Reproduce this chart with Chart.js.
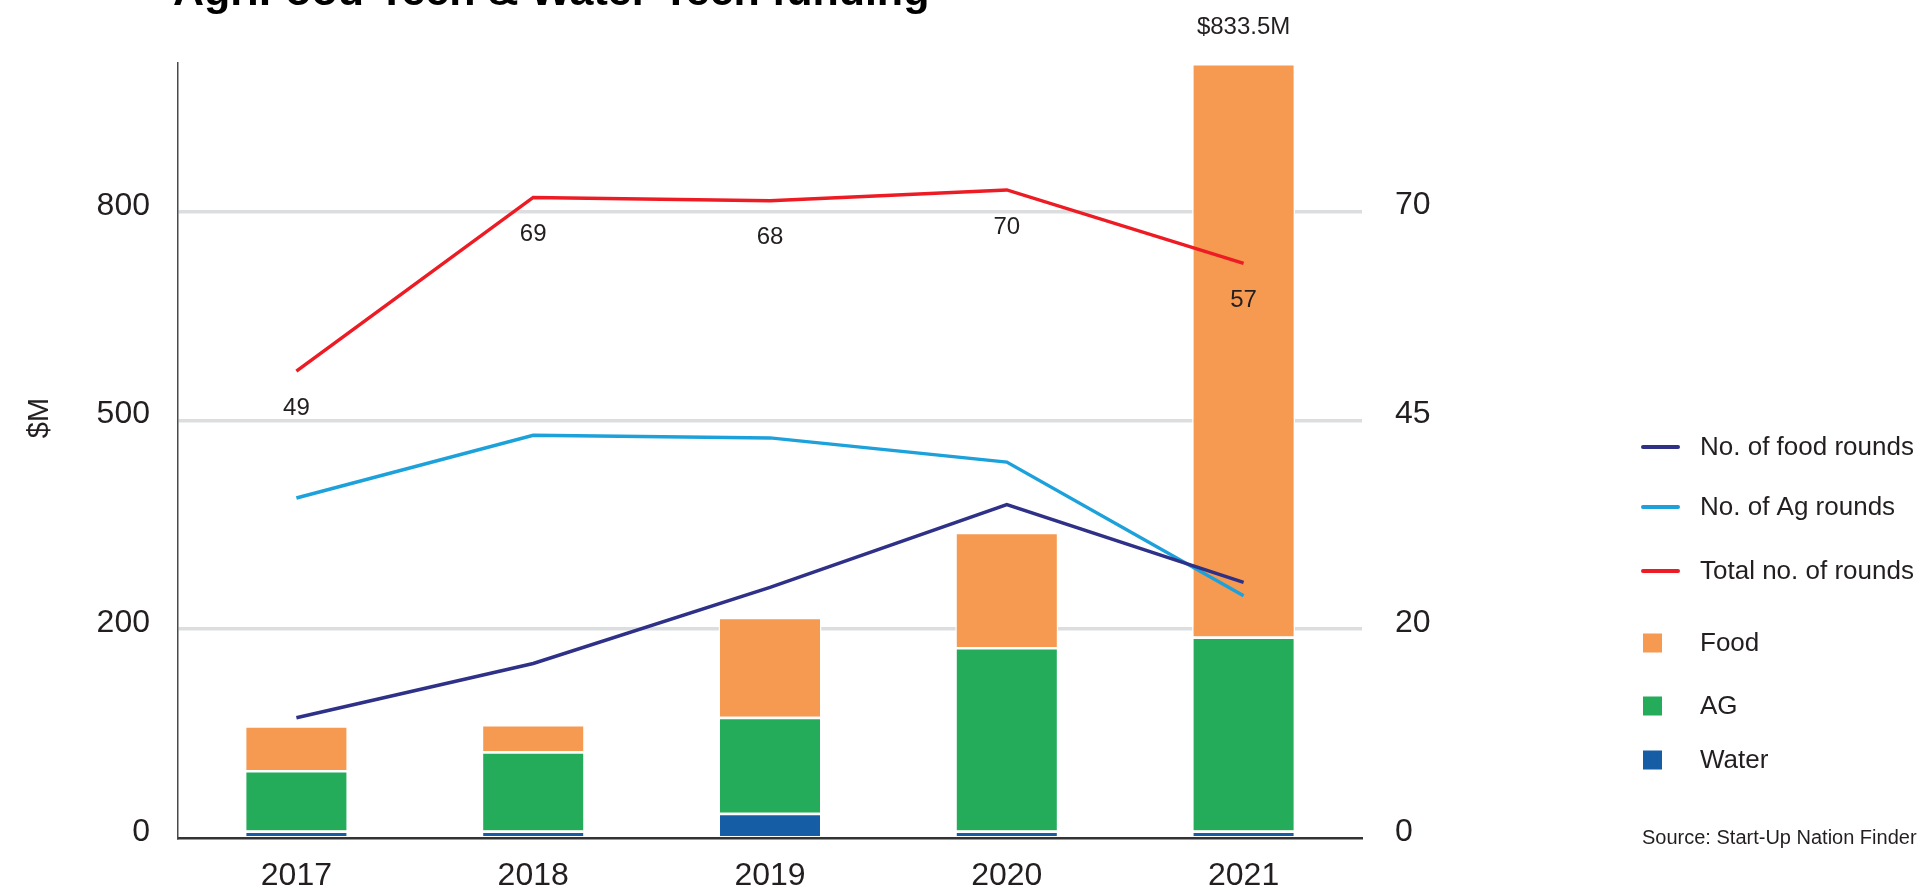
<!DOCTYPE html>
<html>
<head>
<meta charset="utf-8">
<script src="https://cdn.jsdelivr.net/npm/chart.js@4/dist/chart.umd.min.js"></script>
<style>
  html, body { margin: 0; padding: 0; background: #ffffff; overflow: hidden; }
  #wrap { position: relative; width: 1926px; height: 890px; }
</style>
</head>
<body>
<div id="wrap"><canvas id="c" width="1926" height="890"></canvas></div>
<script>
// ---- data ----
const years = ['2017', '2018', '2019', '2020', '2021'];
const waterFunding = [7, 7, 24, 7, 7];
const agFunding = [58, 76, 92, 176, 186];
const foodFunding = [43, 26, 102, 157, 821];
const foodRounds = [11.5, 16.7, 25.0, 34.9, 25.6];
const agRounds = [35.7, 43.2, 42.9, 40.0, 24.0];
const totalRounds = [50.9, 71.7, 71.3, 72.6, 63.8];
const totalRoundsLabels = ['49', '69', '68', '70', '57'];
const fundingTotalLabels = ['', '', '', '', '$833.5M'];
const leftTicks = [0, 200, 500, 800];
const rightTicks = [0, 20, 45, 70];
const leftMax = 1014;
const rightMax = 87.8;
const titleText = 'AgriFood-Tech & Water-Tech funding';
const leftAxisTitle = '$M';
const sourceText = 'Source: Start-Up Nation Finder';

// ---- a scale whose labelled ticks are evenly spaced (as in the original) ----
class BreakScale extends Chart.LinearScale {
  determineDataLimits() {
    this.min = this.options.min;
    this.max = this.options.max;
  }
  buildTicks() {
    return this.options.breaks.map(v => ({ value: v }));
  }
  _seg(value) {
    const b = this.options.breaks;
    let i = 0;
    while (i < b.length - 2 && value > b[i + 1]) i++;
    return i + (value - b[i]) / (b[i + 1] - b[i]);
  }
  getPixelForValue(value) {
    return this.getPixelForDecimal(this._seg(value) / this._seg(this.max));
  }
  getValueForPixel(pixel) {
    const s = this.getDecimalForPixel(pixel) * this._seg(this.max);
    const b = this.options.breaks;
    const i = Math.min(Math.max(Math.floor(s), 0), b.length - 2);
    return b[i] + (s - i) * (b[i + 1] - b[i]);
  }
}
BreakScale.id = 'breaks';
BreakScale.defaults = Chart.LinearScale.defaults;
Chart.register(BreakScale);

const FONT = "'Liberation Sans', Arial, Helvetica, sans-serif";
const TEXT = '#231F20';
Chart.defaults.font.family = FONT;
Chart.defaults.color = TEXT;

const C = {
  navy: '#2E3187', sky: '#1DA1DB', red: '#ED1C24',
  food: '#F69A52', ag: '#25AC5A', water: '#155EA6'
};

const lineStyle = { type: 'line', yAxisID: 'y2', order: 0, borderWidth: 3.5, pointRadius: 0,
  pointHoverRadius: 0, tension: 0, fill: false, borderCapStyle: 'butt', borderJoinStyle: 'miter' };
const barStyle = { type: 'bar', yAxisID: 'y', order: 1, stack: 'funding', borderColor: '#ffffff',
  borderWidth: { top: 2.5, left: 1.5, right: 1.5, bottom: 0 }, borderSkipped: 'start',
  barPercentage: 0.435, categoryPercentage: 1.0 };

const datasets = [
  Object.assign({ label: 'No. of food rounds', data: foodRounds, borderColor: C.navy, backgroundColor: C.navy }, lineStyle),
  Object.assign({ label: 'No. of Ag rounds', data: agRounds, borderColor: C.sky, backgroundColor: C.sky }, lineStyle),
  Object.assign({ label: 'Total no. of rounds', data: totalRounds, borderColor: C.red, backgroundColor: C.red }, lineStyle),
  Object.assign({ label: 'Water', data: waterFunding, backgroundColor: C.water }, barStyle),
  Object.assign({ label: 'AG', data: agFunding, backgroundColor: C.ag }, barStyle),
  Object.assign({ label: 'Food', data: foodFunding, backgroundColor: C.food }, barStyle)
];
const legendOrder = [0, 1, 2, 5, 4, 3];

const decorPlugin = {
  id: 'decor',
  afterDatasetsDraw(chart) {
    const ctx = chart.ctx;
    ctx.save();
    ctx.fillStyle = TEXT;
    ctx.textAlign = 'center';
    ctx.textBaseline = 'middle';
    ctx.font = '24px ' + FONT;
    // labels under the total-rounds line
    const redMeta = chart.getDatasetMeta(2);
    redMeta.data.forEach((pt, i) => {
      if (totalRoundsLabels[i]) ctx.fillText(totalRoundsLabels[i], pt.x, pt.y + 37);
    });
    // total funding label over the stacked bar
    const topMeta = chart.getDatasetMeta(5);
    topMeta.data.forEach((bar, i) => {
      if (fundingTotalLabels[i]) ctx.fillText(fundingTotalLabels[i], bar.x, bar.y - 36);
    });
    ctx.restore();
  },
  afterDraw(chart) {
    const ctx = chart.ctx;
    ctx.save();
    // title (partly above the top edge, as in the original)
    ctx.fillStyle = '#000000';
    ctx.textAlign = 'left';
    ctx.textBaseline = 'alphabetic';
    ctx.font = 'bold 43px ' + FONT;
    ctx.fillText(titleText, 173, 5);
    // left axis title
    ctx.fillStyle = TEXT;
    ctx.font = '29px ' + FONT;
    ctx.translate(40, 418);
    ctx.rotate(-Math.PI / 2);
    ctx.textAlign = 'center';
    ctx.textBaseline = 'middle';
    ctx.fillText(leftAxisTitle, 0, 0);
    ctx.restore();

    // legend
    ctx.save();
    const ys = [447, 507, 571, 643, 706, 760];
    ctx.font = '26px ' + FONT;
    ctx.textBaseline = 'middle';
    ctx.textAlign = 'left';
    legendOrder.forEach((di, k) => {
      const ds = chart.data.datasets[di];
      const y = ys[k];
      if (ds.type === 'line') {
        ctx.strokeStyle = ds.borderColor;
        ctx.lineWidth = 4;
        ctx.lineCap = 'round';
        ctx.beginPath();
        ctx.moveTo(1643, y);
        ctx.lineTo(1678, y);
        ctx.stroke();
      } else {
        ctx.fillStyle = ds.backgroundColor;
        ctx.fillRect(1643, y - 9.5, 19, 19);
      }
      ctx.fillStyle = TEXT;
      ctx.fillText(ds.label, 1700, y + 1);
    });
    ctx.font = '20px ' + FONT;
    ctx.fillText(sourceText, 1642, 838);
    ctx.restore();
  }
};

new Chart(document.getElementById('c'), {
  type: 'bar',
  data: { labels: years, datasets },
  options: {
    responsive: false,
    animation: false,
    events: [],
    layout: { padding: { top: 63, left: 0, right: 464, bottom: 0 } },
    plugins: { legend: { display: false }, tooltip: { enabled: false }, title: { display: false } },
    scales: {
      x: {
        type: 'category',
        stacked: true,
        offset: true,
        grid: { display: false, drawTicks: false },
        border: { display: true, color: '#333333', width: 2.5 },
        ticks: { font: { size: 32 }, color: TEXT, padding: 19, maxRotation: 0, autoSkip: false },
        afterFit(s) { s.height = 49.5; }
      },
      y: {
        type: 'breaks',
        position: 'left',
        stacked: true,
        min: 0,
        max: leftMax,
        breaks: leftTicks,
        grid: {
          drawTicks: false,
          lineWidth: 3.5,
          color: (c) => (c.tick && c.tick.value === 0) ? 'rgba(0,0,0,0)' : '#DCDDDF'
        },
        border: { display: true, color: '#4a4a4a', width: 1.5 },
        ticks: { font: { size: 32 }, color: TEXT, padding: 28, labelOffset: -6, autoSkip: false,
                 callback: (v) => String(v) },
        afterFit(s) { s.width = 178; }
      },
      y2: {
        type: 'breaks',
        axis: 'y',
        position: 'right',
        min: 0,
        max: rightMax,
        breaks: rightTicks,
        grid: { display: false, drawTicks: false },
        border: { display: false },
        ticks: { font: { size: 32 }, color: TEXT, padding: 33, labelOffset: -6, autoSkip: false,
                 callback: (v) => String(v) },
        afterFit(s) { s.width = 100; }
      }
    }
  },
  plugins: [decorPlugin]
});
</script>
</body>
</html>
